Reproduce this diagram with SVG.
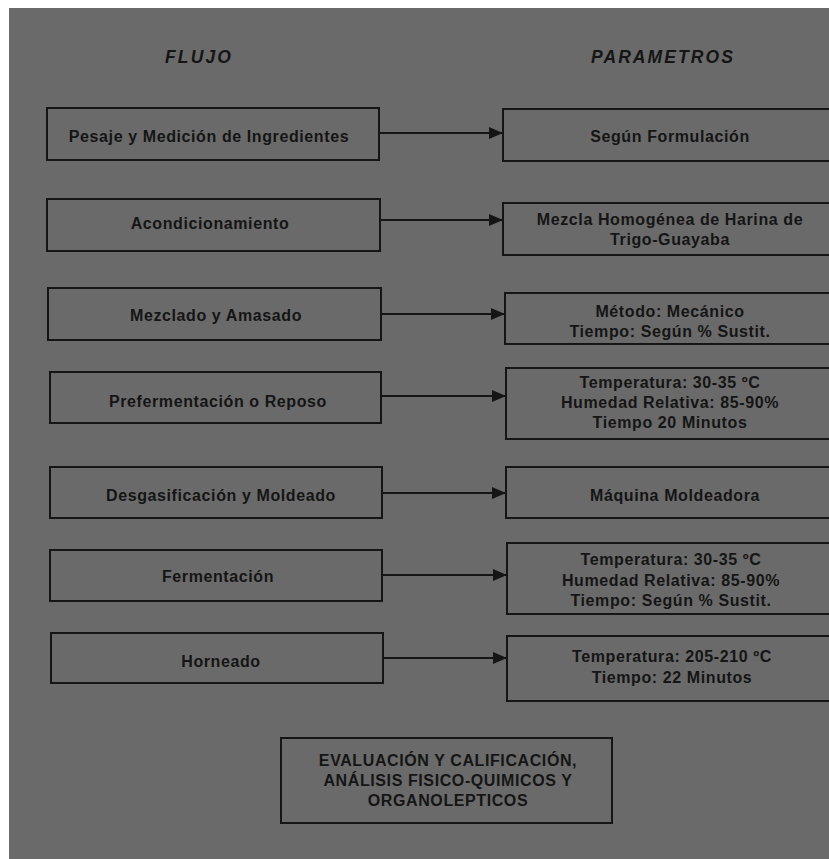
<svg xmlns="http://www.w3.org/2000/svg" width="829" height="859" viewBox="0 0 829 859">
<defs>
<style>
.box{fill:none;stroke:#151515;stroke-width:2}
.t{font-family:"Liberation Sans",Arial,sans-serif;font-weight:bold;font-size:16px;letter-spacing:0.6px;fill:#151515;text-anchor:middle}
.h{font-family:"Liberation Sans",Arial,sans-serif;font-weight:bold;font-style:italic;font-size:17.5px;letter-spacing:2.1px;fill:#151515;text-anchor:middle}
.c{stroke:#151515;stroke-width:2;fill:none;marker-end:url(#ah)}
</style>
<marker id="ah" markerWidth="14" markerHeight="12" refX="14" refY="6" orient="auto" markerUnits="userSpaceOnUse">
<path d="M0,0 L14,6 L0,12 Z" fill="#151515"/>
</marker>
</defs>
<rect x="0" y="0" width="829" height="859" fill="#ffffff"/>
<rect x="9" y="8" width="820" height="851" fill="#6a6a6a"/>
<text class="h" x="199" y="63">FLUJO</text>
<text class="h" x="663" y="63">PARAMETROS</text>
<g id="connectors">
<path class="c" d="M379,133 H503"/>
<path class="c" d="M380,220 H503"/>
<path class="c" d="M381,314 H505"/>
<path class="c" d="M381,396 H506"/>
<path class="c" d="M382,493 H506"/>
<path class="c" d="M382,575 H507"/>
<path class="c" d="M383,658 H507"/>
</g>
<g id="f1"><rect class="box" x="47" y="108" width="332" height="52"/><text class="t" x="209" y="142">Pesaje y Medición de Ingredientes</text></g>
<g id="f2"><rect class="box" x="47" y="199" width="333" height="52"/><text class="t" x="210" y="229">Acondicionamiento</text></g>
<g id="f3"><rect class="box" x="48" y="288" width="333" height="52"/><text class="t" x="216" y="321">Mezclado y Amasado</text></g>
<g id="f4"><rect class="box" x="50" y="372" width="331" height="51"/><text class="t" x="218" y="407">Prefermentación o Reposo</text></g>
<g id="f5"><rect class="box" x="50" y="467" width="332" height="51"/><text class="t" x="221" y="501">Desgasificación y Moldeado</text></g>
<g id="f6"><rect class="box" x="50" y="550" width="332" height="51"/><text class="t" x="218" y="582">Fermentación</text></g>
<g id="f7"><rect class="box" x="51" y="633" width="332" height="50"/><text class="t" x="221" y="667">Horneado</text></g>
<g id="p1"><rect class="box" x="503" y="109" width="335" height="52"/><text class="t" x="670" y="142">Según Formulación</text></g>
<g id="p2"><rect class="box" x="503" y="203" width="335" height="52"/><text class="t" x="670" y="225">Mezcla Homogénea de Harina de</text><text class="t" x="670" y="245">Trigo-Guayaba</text></g>
<g id="p3"><rect class="box" x="505" y="293" width="335" height="51"/><text class="t" x="670" y="317">Método: Mecánico</text><text class="t" x="670" y="337">Tiempo: Según % Sustit.</text></g>
<g id="p4"><rect class="box" x="506" y="368" width="335" height="71"/><text class="t" x="670" y="388">Temperatura: 30-35 ºC</text><text class="t" x="670" y="408">Humedad Relativa: 85-90%</text><text class="t" x="670" y="428">Tiempo 20 Minutos</text></g>
<g id="p5"><rect class="box" x="506" y="467" width="335" height="51"/><text class="t" x="675" y="501">Máquina Moldeadora</text></g>
<g id="p6"><rect class="box" x="507" y="543" width="335" height="71"/><text class="t" x="671" y="565">Temperatura: 30-35 ºC</text><text class="t" x="671" y="586">Humedad Relativa: 85-90%</text><text class="t" x="671" y="606">Tiempo: Según % Sustit.</text></g>
<g id="p7"><rect class="box" x="507" y="636" width="335" height="65"/><text class="t" x="672" y="662">Temperatura: 205-210 ºC</text><text class="t" x="672" y="683">Tiempo: 22 Minutos</text></g>
<g id="eval"><rect class="box" x="281" y="738" width="331" height="85"/><text class="t" x="448" y="766">EVALUACIÓN Y CALIFICACIÓN,</text><text class="t" x="448" y="786">ANÁLISIS FISICO-QUIMICOS Y</text><text class="t" x="448" y="806">ORGANOLEPTICOS</text></g>
</svg>
